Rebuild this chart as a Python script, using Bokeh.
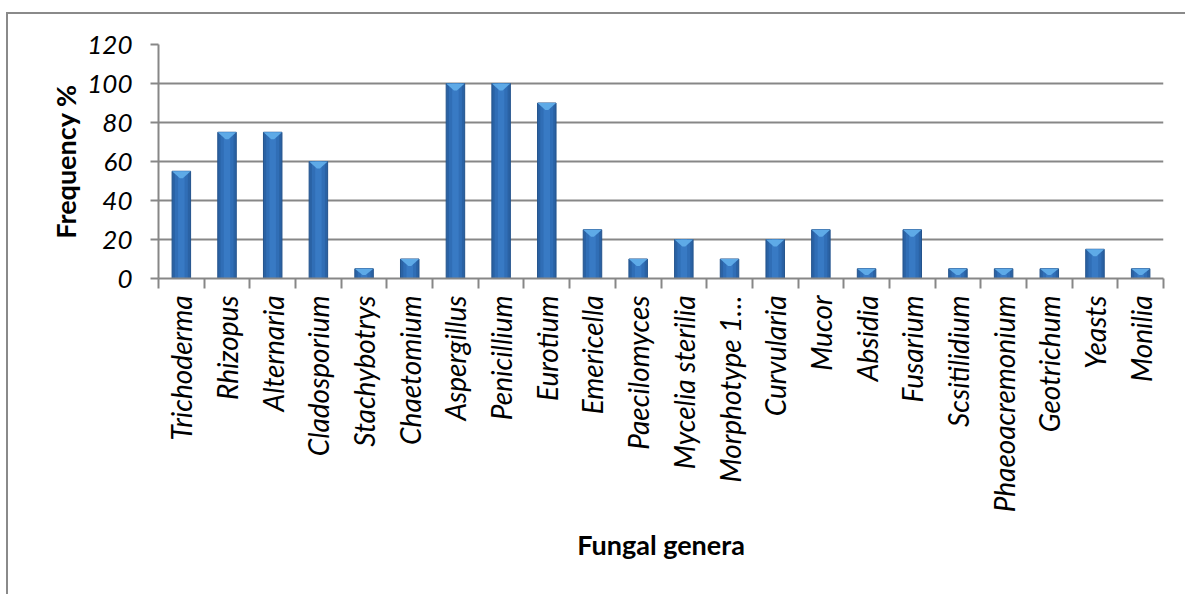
from bokeh.plotting import figure
from bokeh.models import ColumnDataSource, FixedTicker
from bokeh.embed import file_html
from bokeh.resources import INLINE
import math

categories = ["Trichoderma", "Rhizopus", "Alternaria", "Cladosporium", "Stachybotrys",
              "Chaetomium", "Aspergillus", "Penicillium", "Eurotium", "Emericella",
              "Paecilomyces", "Mycelia sterilia", "Morphotype 1\u2026", "Curvularia",
              "Mucor", "Absidia", "Fusarium", "Scsitilidium", "Phaeoacremonium",
              "Geotrichum", "Yeasts", "Monilia"]
values = [55, 75, 75, 60, 5, 10, 100, 100, 90, 25, 10, 20, 10, 20, 25, 5, 25, 5, 5, 5, 15, 5]
y_ticks = [0, 20, 40, 60, 80, 100, 120]

n = len(categories)
xs = [i + 0.5 for i in range(n)]
W = 0.405

src = ColumnDataSource(dict(x=xs, top=values, name=categories))

GRID = "#878787"
FONT = "Lato"

p = figure(width=1185, height=594, output_backend="svg", toolbar_location=None,
           x_range=(0, n), y_range=(0, 120),
           min_border_left=158, min_border_top=44, min_border_right=22, min_border_bottom=316)
p.outline_line_color = None
p.background_fill_color = "white"
p.border_fill_alpha = 0
p.styles = {
    "background": ("linear-gradient(#8A8A8A, #8A8A8A) 6px 12px / 2px 100% no-repeat, "
                   "linear-gradient(#8A8A8A, #8A8A8A) 6px 12px / 100% 2px no-repeat, white"),
}

# bars with simple horizontal shading
p.vbar(x="x", top="top", bottom=0, width=W, source=src,
       fill_color="#2A62A4", line_color="#23538C", line_width=1)
p.vbar(x="x", top="top", bottom=0, width=W * 0.7, source=src,
       fill_color="#306EB6", line_color=None)
p.vbar(x="x", top="top", bottom=0, width=W * 0.35, source=src,
       fill_color="#387AC4", line_color=None)

# bevel top
pxs, pys = [], []
for x, v in zip(xs, values):
    d = min(3.6, 0.65 * v)
    pxs.append([x - W / 2, x + W / 2, x + W * 0.08, x - W * 0.08])
    pys.append([v, v, v - d, v - d])
p.patches(pxs, pys, fill_color="#5EAAE7", line_color=None)

# axes
xa = p.xaxis[0]
xa.ticker = FixedTicker(ticks=xs, minor_ticks=list(range(n + 1)))
xa.major_label_overrides = {x: c for x, c in zip(xs, categories)}
xa.major_label_orientation = math.pi / 2
xa.major_tick_line_color = None
xa.major_tick_out = 0
xa.major_tick_in = 0
xa.minor_tick_line_color = GRID
xa.minor_tick_line_width = 2
xa.minor_tick_out = 10
xa.minor_tick_in = 0
xa.axis_line_color = GRID
xa.axis_line_width = 2
xa.major_label_standoff = 7
xa.major_label_text_font = FONT
xa.major_label_text_font_style = "italic"
xa.major_label_text_font_size = "28px"
xa.major_label_text_color = "black"
xa.axis_label = "Fungal genera"
xa.axis_label_text_font = FONT
xa.axis_label_text_font_style = "bold"
xa.axis_label_text_font_size = "27px"
xa.axis_label_text_color = "black"
xa.axis_label_standoff = 13

ya = p.yaxis[0]
ya.ticker = FixedTicker(ticks=y_ticks)
ya.minor_tick_line_color = None
ya.major_tick_line_color = GRID
ya.major_tick_line_width = 2
ya.major_tick_out = 8
ya.major_tick_in = 0
ya.axis_line_color = GRID
ya.axis_line_width = 2
ya.major_label_standoff = 18
ya.major_label_text_font = FONT
ya.major_label_text_font_style = "italic"
ya.major_label_text_font_size = "26px"
ya.major_label_text_color = "black"
ya.axis_label = "Frequency %"
ya.axis_label_text_font = FONT
ya.axis_label_text_font_style = "bold"
ya.axis_label_text_font_size = "27px"
ya.axis_label_text_color = "black"
ya.axis_label_standoff = 2

p.xgrid.grid_line_color = None
p.ygrid.ticker = FixedTicker(ticks=y_ticks)
p.ygrid.grid_line_color = GRID
p.ygrid.grid_line_width = 2

open("out.html", "w").write(file_html(p, INLINE))
